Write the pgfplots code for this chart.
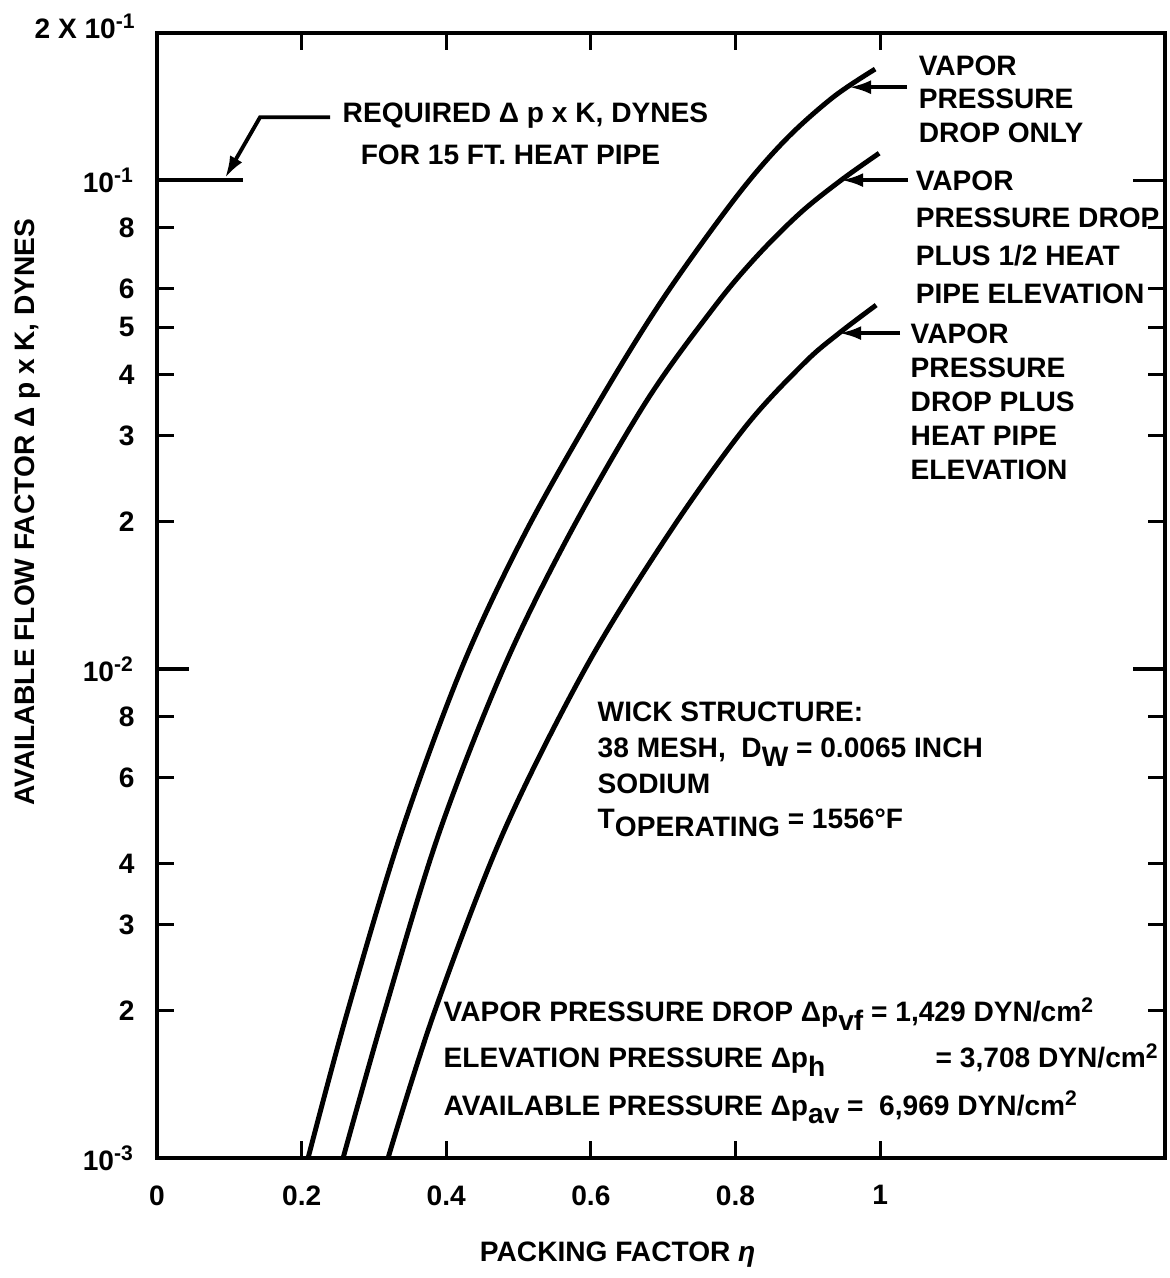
\documentclass[border=0pt]{standalone}
\usepackage{fontspec}
\setmainfont{Liberation Sans}
\usepackage{pgfplots}
\pgfplotsset{compat=1.18}
\usetikzlibrary{arrows.meta}

\newcommand\ff{\bfseries\fontsize{8}{9.6}\selectfont}
\newcommand\lo[1]{\raisebox{-0.55ex}{#1}}

\begin{document}
\begin{tikzpicture}[font=\ff]
\begin{axis}[
  scale only axis, width=10.08cm, height=11.25cm,
  xmin=0, xmax=1.394,
  ymode=log, ymin=0.001, ymax=0.2,
  axis line style={line width=1.2pt},
  every tick/.style={black, line width=0.9pt},
  major tick length=0.17cm,
  every tick label/.append style={font=\ff},
  xtick={0,0.2,0.4,0.6,0.8,1},
  xticklabels={0,0.2,0.4,0.6,0.8,1},
  xticklabel style={yshift=-0.15cm},
  ytick={0.002,0.003,0.004,0.006,0.008,0.02,0.03,0.04,0.05,0.06,0.08},
  yticklabels={2,3,4,6,8,2,3,4,5,6,8},
  extra y ticks={0.001,0.01,0.1},
  extra y tick labels={10\textsuperscript{-3},10\textsuperscript{-2},10\textsuperscript{-1}},
  extra y tick style={major tick length=0.32cm},
  yticklabel style={xshift=-0.1cm},
  yminorticks=false, xminorticks=false,
  clip=false,
]
% vapor pressure drop only
\addplot[line width=1.4pt, smooth, tension=0.55] table {
x y
0.2089 0.001
0.2628 0.001979
0.3375 0.004619
0.4219 0.010095
0.5090 0.01897
0.6127 0.03548
0.7012 0.05764
0.8008 0.09231
0.8686 0.1207
0.9350 0.1478
0.9931 0.1687
};
% plus 1/2 heat pipe elevation
\addplot[line width=1.4pt, smooth, tension=0.55] table {
x y
0.2573 0.001
0.3140 0.001979
0.3900 0.004619
0.4799 0.010095
0.5712 0.01897
0.6777 0.03548
0.7704 0.05499
0.8285 0.06961
0.8893 0.08561
0.9461 0.1
0.9986 0.1135
};
% plus heat pipe elevation
\addplot[line width=1.4pt, smooth, tension=0.55] table {
x y
0.3195 0.001
0.3831 0.001979
0.4786 0.004619
0.5934 0.010095
0.7082 0.01897
0.8133 0.03125
0.8949 0.04224
0.9433 0.04865
0.9945 0.05551
};

% required level
\draw[line width=1.3pt] (axis cs:0,0.1) -- (axis cs:0.119,0.1);
\draw[line width=1.1pt, -{Latex[length=0.22cm,width=0.14cm]}]
  (axis cs:0.2393,0.1345) -- (axis cs:0.1425,0.1345) -- (axis cs:0.0941,0.101);
\node[anchor=base west, inner sep=0] at (rel axis cs:0.1835,0.92) {REQUIRED Δ p x K, DYNES};
\node[anchor=base west, inner sep=0] at (rel axis cs:0.2014,0.8827) {FOR 15 FT. HEAT PIPE};

% curve labels
\draw[line width=1.1pt, -{Latex[length=0.22cm,width=0.14cm]}]
  (axis cs:1.0373,0.1549) -- (axis cs:0.957,0.1549);
\draw[line width=1.1pt, -{Latex[length=0.22cm,width=0.14cm]}]
  (axis cs:1.0387,0.1) -- (axis cs:0.9461,0.1);
\draw[line width=1.1pt, -{Latex[length=0.22cm,width=0.14cm]}]
  (axis cs:1.0277,0.04865) -- (axis cs:0.9433,0.04865);
\node[anchor=north west, inner sep=0, align=left, font=\bfseries\fontsize{8}{9.5}\selectfont]
  at (rel axis cs:0.755,0.9804) {VAPOR\\PRESSURE\\DROP ONLY};
\node[anchor=north west, inner sep=0, align=left, font=\bfseries\fontsize{8}{10.7}\selectfont]
  at (rel axis cs:0.752,0.8782) {VAPOR\\PRESSURE DROP\\PLUS 1/2 HEAT\\PIPE ELEVATION};
\node[anchor=north west, inner sep=0, align=left, font=\bfseries\fontsize{8}{9.7}\selectfont]
  at (rel axis cs:0.747,0.7422) {VAPOR\\PRESSURE\\DROP PLUS\\HEAT PIPE\\ELEVATION};

% wick structure
\node[anchor=base west, inner sep=0] at (rel axis cs:0.4365,0.3876) {WICK STRUCTURE:};
\node[anchor=base west, inner sep=0] at (rel axis cs:0.4365,0.3556) {38 MESH,\ \ D\lo{W} = 0.0065 INCH};
\node[anchor=base west, inner sep=0] at (rel axis cs:0.4365,0.3244) {SODIUM};
\node[anchor=base west, inner sep=0] at (rel axis cs:0.4365,0.2933) {T\lo{OPERATING} = 1556°F};

% pressures
\node[anchor=base west, inner sep=0] at (rel axis cs:0.2837,0.1209) {VAPOR PRESSURE DROP Δp\lo{vf} = 1,429 DYN/cm\textsuperscript{2}};
\node[anchor=base west, inner sep=0] at (rel axis cs:0.2837,0.0800) {ELEVATION PRESSURE Δp\lo{h}};
\node[anchor=base west, inner sep=0] at (rel axis cs:0.7718,0.0800) {= 3,708 DYN/cm\textsuperscript{2}};
\node[anchor=base west, inner sep=0] at (rel axis cs:0.2837,0.0382) {AVAILABLE PRESSURE Δp\lo{av} =\ \ 6,969 DYN/cm\textsuperscript{2}};

% axis labels
\node[anchor=base east, inner sep=0] at (rel axis cs:-0.0198,0.9947) {2 X 10\textsuperscript{-1}};
\node[rotate=90] at (rel axis cs:-0.128,0.574) {AVAILABLE FLOW FACTOR Δ p x K, DYNES};
\node at (rel axis cs:0.457,-0.086) {PACKING FACTOR \textit{η}};

\coordinate (bbll) at (rel axis cs:-0.1558,-0.1067);
\coordinate (bbur) at (rel axis cs:1.004,1.0293);
\end{axis}
\pgfresetboundingbox
\useasboundingbox (bbll) rectangle (bbur);
\end{tikzpicture}
\end{document}
